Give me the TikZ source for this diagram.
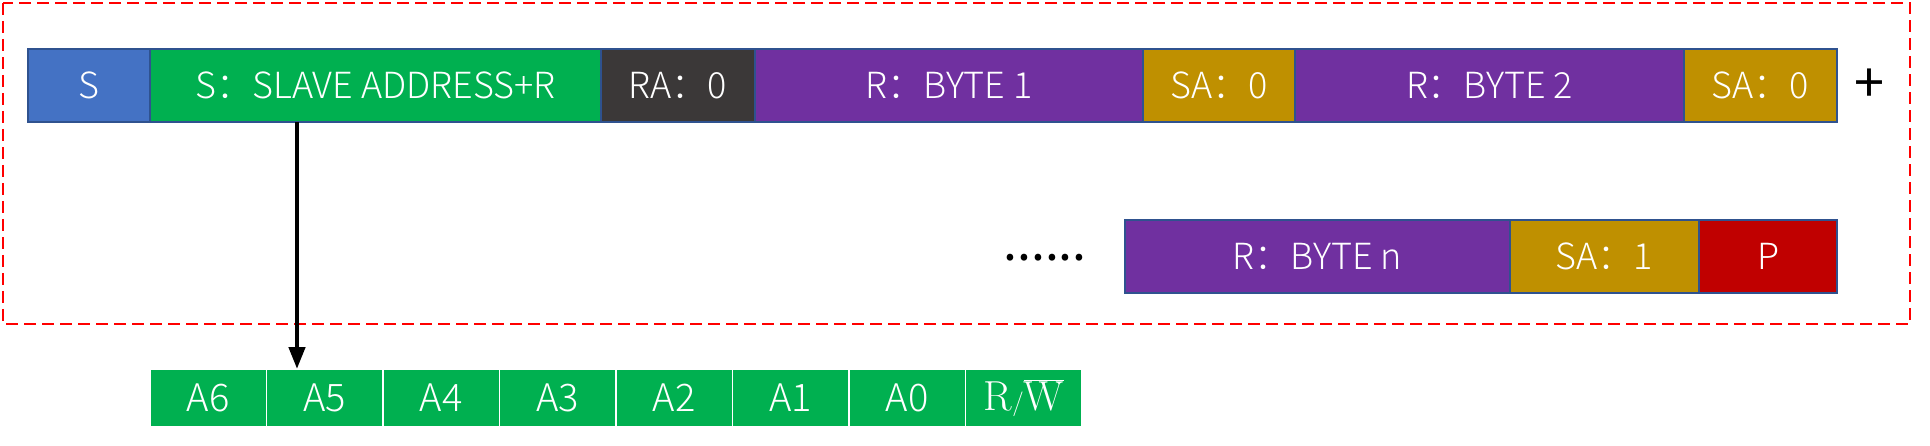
\documentclass[tikz,border=0pt]{standalone}
\usepackage{fontspec}
\newfontfamily\cjk{Noto Sans CJK SC}[UprightFont={* Light}]
\newfontfamily\cjkreg{Noto Sans CJK SC}
\usetikzlibrary{arrows.meta}
\definecolor{cblue}{HTML}{4472C4}
\definecolor{cgreen}{HTML}{00B050}
\definecolor{cdark}{HTML}{3B3838}
\definecolor{cpurple}{HTML}{7030A0}
\definecolor{cgold}{HTML}{BF9000}
\definecolor{cred}{HTML}{C00000}
\definecolor{cedge}{HTML}{2F528F}
\tikzset{
  cell/.style={draw=cedge, line width=1.5pt, inner sep=0pt, outer sep=0pt,
    minimum height=73pt, anchor=north west, text=white, font=\cjk\fontsize{36}{40}\selectfont},
  bit/.style={draw=white, line width=1.5pt, fill=cgreen, inner sep=0pt, outer sep=0pt,
    minimum width=116.5pt, minimum height=58pt, anchor=north west, text=white,
    font=\cjk\fontsize{38}{42}\selectfont},
  frame/.style={draw=red, line width=2pt, dash pattern=on 12pt off 6pt},
  arrowline/.style={line width=4.5pt, -{Triangle[length=22pt, width=16pt]}}
}
\begin{document}
\begin{tikzpicture}[x=1pt, y=-1pt]
\useasboundingbox (0,0) rectangle (1930,446);
\draw[frame] (3,3) rectangle (1910,324);
% top bar
\node[cell, fill=cblue, minimum width=122pt] (s) at (28,49) {S};
\node[cell, fill=cgreen, minimum width=451pt] (addr) at (150,49) {S：SLAVE ADDRESS+R};
\node[cell, fill=cdark, minimum width=154pt] (ra) at (601,49) {RA：0};
\node[cell, fill=cpurple, minimum width=388pt] (b1) at (755,49) {R：BYTE 1};
\node[cell, fill=cgold, minimum width=152pt] (sa1) at (1143,49) {SA：0};
\node[cell, fill=cpurple, minimum width=389pt] (b2) at (1295,49) {R：BYTE 2};
\node[cell, fill=cgold, minimum width=153pt] (sa2) at (1684,49) {SA：0};
\node[font=\cjkreg\fontsize{54}{58}\selectfont, inner sep=0pt] (plus) at (1869,86) {+};
% second bar
\node[font=\cjkreg\fontsize{50}{54}\selectfont, inner sep=0pt, anchor=base] (dots) at (1045,261) {......};
\node[cell, fill=cpurple, minimum width=385pt] (bn) at (1125,220) {R：BYTE n};
\node[cell, fill=cgold, minimum width=189pt] (san) at (1510,220) {SA：1};
\node[cell, fill=cred, minimum width=138pt] (p) at (1699,220) {P};
% address bits
\node[bit] (a6) at (150,369) {A6};
\node[bit] (a5) at (266.5,369) {A5};
\node[bit] (a4) at (383,369) {A4};
\node[bit] (a3) at (499.5,369) {A3};
\node[bit] (a2) at (616,369) {A2};
\node[bit] (a1) at (732.5,369) {A1};
\node[bit] (a0) at (849,369) {A0};
\node[bit, font=\fontsize{42}{46}\selectfont] (rw) at (965.5,369) {$\mathrm{R}/\overline{\mathrm{W}}$};
% arrow
\coordinate (arrtop) at (297,122);
\draw[arrowline] (arrtop) -- (arrtop |- a5.north);
\end{tikzpicture}
\end{document}
